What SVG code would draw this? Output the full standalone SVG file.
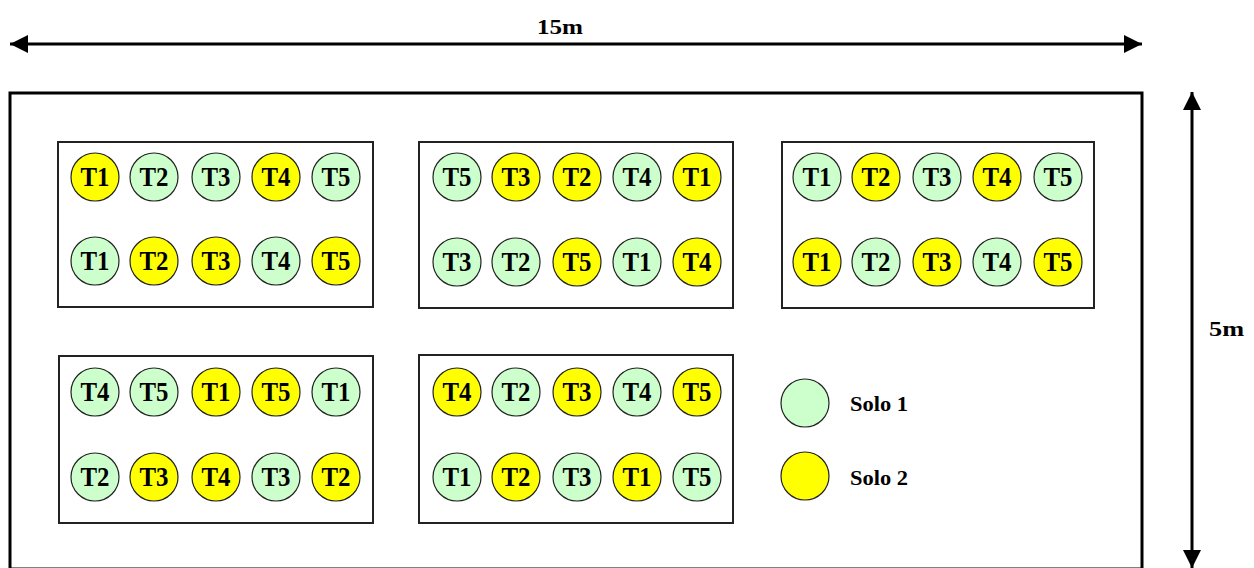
<svg xmlns="http://www.w3.org/2000/svg" width="1254" height="568" viewBox="0 0 1254 568">
<style>
.bg{fill:#ffffff}
.field{fill:none;stroke:#000;stroke-width:3}
.block{fill:none;stroke:#222;stroke-width:2}
.g{fill:#ccffcc;stroke:#222;stroke-width:1.2}
.y{fill:#ffff00;stroke:#222;stroke-width:1.2}
.lbl{font-family:"Liberation Serif","Times New Roman",serif;font-weight:bold;font-size:28px;fill:#000;text-anchor:middle}
.dim{font-family:"Liberation Serif","Times New Roman",serif;font-weight:bold;font-size:21px;fill:#000}
.leg{font-family:"Liberation Serif","Times New Roman",serif;font-weight:bold;font-size:22px;fill:#000}
.arr{stroke:#000;stroke-width:3;fill:none}
</style>
<defs>
<marker id="ah" viewBox="0 0 18 18" refX="18" refY="9" markerWidth="18" markerHeight="18" markerUnits="userSpaceOnUse" orient="auto-start-reverse">
<path d="M0,0 L18,9 L0,18 Z" fill="#000"/>
</marker>
</defs>
<rect class="bg" x="0" y="0" width="1254" height="568"/>
<g id="connectors">
<line class="arr" x1="10" y1="44" x2="1142" y2="44" marker-start="url(#ah)" marker-end="url(#ah)"/>
<line class="arr" x1="1192" y1="92" x2="1192" y2="568" marker-start="url(#ah)" marker-end="url(#ah)"/>
</g>
<g id="dimension-labels">
<text class="dim" x="537" y="34" textLength="46" lengthAdjust="spacingAndGlyphs">15m</text>
<text class="dim" x="1209" y="336" textLength="35" lengthAdjust="spacingAndGlyphs">5m</text>
</g>
<g id="field">
<rect class="field" x="10" y="93" width="1132" height="476"/>
</g>
<g id="block1">
<rect class="block" x="58" y="142" width="315" height="165"/>
<circle class="y" cx="95" cy="177" r="24"/><text class="lbl" x="95" y="186" textLength="29" lengthAdjust="spacingAndGlyphs">T1</text>
<circle class="g" cx="154" cy="177" r="24"/><text class="lbl" x="154" y="186" textLength="29" lengthAdjust="spacingAndGlyphs">T2</text>
<circle class="g" cx="216" cy="177" r="24"/><text class="lbl" x="216" y="186" textLength="29" lengthAdjust="spacingAndGlyphs">T3</text>
<circle class="y" cx="276" cy="177" r="24"/><text class="lbl" x="276" y="186" textLength="29" lengthAdjust="spacingAndGlyphs">T4</text>
<circle class="g" cx="336" cy="177" r="24"/><text class="lbl" x="336" y="186" textLength="29" lengthAdjust="spacingAndGlyphs">T5</text>
<circle class="g" cx="95" cy="261" r="24"/><text class="lbl" x="95" y="270" textLength="29" lengthAdjust="spacingAndGlyphs">T1</text>
<circle class="y" cx="154" cy="261" r="24"/><text class="lbl" x="154" y="270" textLength="29" lengthAdjust="spacingAndGlyphs">T2</text>
<circle class="y" cx="216" cy="261" r="24"/><text class="lbl" x="216" y="270" textLength="29" lengthAdjust="spacingAndGlyphs">T3</text>
<circle class="g" cx="276" cy="261" r="24"/><text class="lbl" x="276" y="270" textLength="29" lengthAdjust="spacingAndGlyphs">T4</text>
<circle class="y" cx="336" cy="261" r="24"/><text class="lbl" x="336" y="270" textLength="29" lengthAdjust="spacingAndGlyphs">T5</text>
</g>
<g id="block2">
<rect class="block" x="419" y="142" width="314" height="166"/>
<circle class="g" cx="457" cy="177" r="24"/><text class="lbl" x="457" y="186" textLength="29" lengthAdjust="spacingAndGlyphs">T5</text>
<circle class="y" cx="516" cy="177" r="24"/><text class="lbl" x="516" y="186" textLength="29" lengthAdjust="spacingAndGlyphs">T3</text>
<circle class="y" cx="577" cy="177" r="24"/><text class="lbl" x="577" y="186" textLength="29" lengthAdjust="spacingAndGlyphs">T2</text>
<circle class="g" cx="637" cy="177" r="24"/><text class="lbl" x="637" y="186" textLength="29" lengthAdjust="spacingAndGlyphs">T4</text>
<circle class="y" cx="697" cy="177" r="24"/><text class="lbl" x="697" y="186" textLength="29" lengthAdjust="spacingAndGlyphs">T1</text>
<circle class="g" cx="457" cy="262" r="24"/><text class="lbl" x="457" y="271" textLength="29" lengthAdjust="spacingAndGlyphs">T3</text>
<circle class="g" cx="516" cy="262" r="24"/><text class="lbl" x="516" y="271" textLength="29" lengthAdjust="spacingAndGlyphs">T2</text>
<circle class="y" cx="577" cy="262" r="24"/><text class="lbl" x="577" y="271" textLength="29" lengthAdjust="spacingAndGlyphs">T5</text>
<circle class="g" cx="637" cy="262" r="24"/><text class="lbl" x="637" y="271" textLength="29" lengthAdjust="spacingAndGlyphs">T1</text>
<circle class="y" cx="697" cy="262" r="24"/><text class="lbl" x="697" y="271" textLength="29" lengthAdjust="spacingAndGlyphs">T4</text>
</g>
<g id="block3">
<rect class="block" x="782" y="142" width="312" height="166"/>
<circle class="g" cx="817" cy="177" r="24"/><text class="lbl" x="817" y="186" textLength="29" lengthAdjust="spacingAndGlyphs">T1</text>
<circle class="y" cx="876" cy="177" r="24"/><text class="lbl" x="876" y="186" textLength="29" lengthAdjust="spacingAndGlyphs">T2</text>
<circle class="g" cx="937" cy="177" r="24"/><text class="lbl" x="937" y="186" textLength="29" lengthAdjust="spacingAndGlyphs">T3</text>
<circle class="y" cx="997" cy="177" r="24"/><text class="lbl" x="997" y="186" textLength="29" lengthAdjust="spacingAndGlyphs">T4</text>
<circle class="g" cx="1058" cy="177" r="24"/><text class="lbl" x="1058" y="186" textLength="29" lengthAdjust="spacingAndGlyphs">T5</text>
<circle class="y" cx="817" cy="262" r="24"/><text class="lbl" x="817" y="271" textLength="29" lengthAdjust="spacingAndGlyphs">T1</text>
<circle class="g" cx="876" cy="262" r="24"/><text class="lbl" x="876" y="271" textLength="29" lengthAdjust="spacingAndGlyphs">T2</text>
<circle class="y" cx="937" cy="262" r="24"/><text class="lbl" x="937" y="271" textLength="29" lengthAdjust="spacingAndGlyphs">T3</text>
<circle class="g" cx="997" cy="262" r="24"/><text class="lbl" x="997" y="271" textLength="29" lengthAdjust="spacingAndGlyphs">T4</text>
<circle class="y" cx="1058" cy="262" r="24"/><text class="lbl" x="1058" y="271" textLength="29" lengthAdjust="spacingAndGlyphs">T5</text>
</g>
<g id="block4">
<rect class="block" x="59" y="356" width="314" height="167"/>
<circle class="g" cx="95" cy="392" r="24"/><text class="lbl" x="95" y="401" textLength="29" lengthAdjust="spacingAndGlyphs">T4</text>
<circle class="g" cx="154" cy="392" r="24"/><text class="lbl" x="154" y="401" textLength="29" lengthAdjust="spacingAndGlyphs">T5</text>
<circle class="y" cx="216" cy="392" r="24"/><text class="lbl" x="216" y="401" textLength="29" lengthAdjust="spacingAndGlyphs">T1</text>
<circle class="y" cx="276" cy="392" r="24"/><text class="lbl" x="276" y="401" textLength="29" lengthAdjust="spacingAndGlyphs">T5</text>
<circle class="g" cx="336" cy="392" r="24"/><text class="lbl" x="336" y="401" textLength="29" lengthAdjust="spacingAndGlyphs">T1</text>
<circle class="g" cx="95" cy="477" r="24"/><text class="lbl" x="95" y="486" textLength="29" lengthAdjust="spacingAndGlyphs">T2</text>
<circle class="y" cx="154" cy="477" r="24"/><text class="lbl" x="154" y="486" textLength="29" lengthAdjust="spacingAndGlyphs">T3</text>
<circle class="y" cx="216" cy="477" r="24"/><text class="lbl" x="216" y="486" textLength="29" lengthAdjust="spacingAndGlyphs">T4</text>
<circle class="g" cx="276" cy="477" r="24"/><text class="lbl" x="276" y="486" textLength="29" lengthAdjust="spacingAndGlyphs">T3</text>
<circle class="y" cx="336" cy="477" r="24"/><text class="lbl" x="336" y="486" textLength="29" lengthAdjust="spacingAndGlyphs">T2</text>
</g>
<g id="block5">
<rect class="block" x="419" y="355" width="314" height="168"/>
<circle class="y" cx="457" cy="392" r="24"/><text class="lbl" x="457" y="401" textLength="29" lengthAdjust="spacingAndGlyphs">T4</text>
<circle class="g" cx="516" cy="392" r="24"/><text class="lbl" x="516" y="401" textLength="29" lengthAdjust="spacingAndGlyphs">T2</text>
<circle class="y" cx="577" cy="392" r="24"/><text class="lbl" x="577" y="401" textLength="29" lengthAdjust="spacingAndGlyphs">T3</text>
<circle class="g" cx="637" cy="392" r="24"/><text class="lbl" x="637" y="401" textLength="29" lengthAdjust="spacingAndGlyphs">T4</text>
<circle class="y" cx="697" cy="392" r="24"/><text class="lbl" x="697" y="401" textLength="29" lengthAdjust="spacingAndGlyphs">T5</text>
<circle class="g" cx="457" cy="477" r="24"/><text class="lbl" x="457" y="486" textLength="29" lengthAdjust="spacingAndGlyphs">T1</text>
<circle class="y" cx="516" cy="477" r="24"/><text class="lbl" x="516" y="486" textLength="29" lengthAdjust="spacingAndGlyphs">T2</text>
<circle class="g" cx="577" cy="477" r="24"/><text class="lbl" x="577" y="486" textLength="29" lengthAdjust="spacingAndGlyphs">T3</text>
<circle class="y" cx="637" cy="477" r="24"/><text class="lbl" x="637" y="486" textLength="29" lengthAdjust="spacingAndGlyphs">T1</text>
<circle class="g" cx="697" cy="477" r="24"/><text class="lbl" x="697" y="486" textLength="29" lengthAdjust="spacingAndGlyphs">T5</text>
</g>
<g id="legend-solo1">
<circle class="g" cx="805" cy="403" r="24"/>
<text class="leg" x="850" y="411" textLength="58" lengthAdjust="spacingAndGlyphs">Solo 1</text>
</g>
<g id="legend-solo2">
<circle class="y" cx="805" cy="476" r="24"/>
<text class="leg" x="850" y="485" textLength="58" lengthAdjust="spacingAndGlyphs">Solo 2</text>
</g>
</svg>
